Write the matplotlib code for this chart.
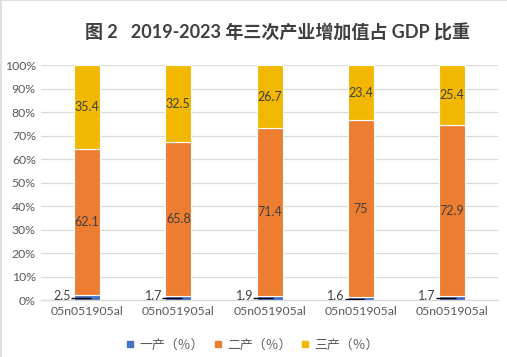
import matplotlib
matplotlib.use("Agg")
import matplotlib.pyplot as plt
from matplotlib.lines import Line2D
import numpy as np

plt.rcParams['font.family'] = ['Lato', 'Noto Sans CJK SC', 'DejaVu Sans']

categories = ["05n051905al"] * 5
primary = [2.5, 1.7, 1.9, 1.6, 1.7]
secondary = [62.1, 65.8, 71.4, 75, 72.9]
tertiary = [35.4, 32.5, 26.7, 23.4, 25.4]
series_names = ["一产（％）", "二产（％）", "三产（％）"]
yticks = [0, 10, 20, 30, 40, 50, 60, 70, 80, 90, 100]
title = "图 2   2019-2023 年三次产业增加值占 GDP 比重"

colors = ["#4472C4", "#ED7D31", "#F2B800"]
txt_grey = "#595959"
lbl_col = "#404040"

fig = plt.figure(figsize=(5.07, 3.57), dpi=100)
ax = fig.add_axes([0.0817, 0.1583, 0.8998, 0.6588])

x = np.arange(len(categories))
w = 0.285
p = np.array(primary) / 100
s = np.array(secondary) / 100
t = np.array(tertiary) / 100

ax.bar(x, p, w, color=colors[0], edgecolor="white", linewidth=0.8, zorder=3)
ax.bar(x, s, w, bottom=p, color=colors[1], edgecolor="white", linewidth=0.8, zorder=3)
ax.bar(x, t, w, bottom=p + s, color=colors[2], edgecolor="white", linewidth=0.8, zorder=3)

def fmt(v):
    return ("%g" % v)

for i in range(len(x)):
    ax.text(x[i], p[i] + s[i] / 2, fmt(secondary[i]), ha="center", va="center",
            fontsize=9, color=lbl_col, zorder=5)
    ax.text(x[i], p[i] + s[i] + t[i] / 2, fmt(tertiary[i]), ha="center", va="center",
            fontsize=9, color=lbl_col, zorder=5)
    lx = x[i] - w / 2 - 0.035
    ax.text(lx, 0.02, fmt(primary[i]), ha="right", va="center",
            fontsize=9, color=lbl_col, zorder=5)
    ax.plot([lx, x[i] + 0.04], [p[i] / 2, p[i] / 2], color="black", linewidth=1.0,
            zorder=6, solid_capstyle="butt")

ax.set_xlim(-0.5, len(x) - 0.5)
ax.set_ylim(0, 1)
ax.set_yticks([v / 100 for v in yticks])
ax.set_yticklabels(["%d%%" % v for v in yticks])
ax.set_xticks(x)
ax.set_xticklabels(categories)
ax.tick_params(axis="both", length=0, labelsize=8.8, colors=txt_grey)
ax.tick_params(axis="y", pad=4)
ax.tick_params(axis="x", pad=4)
ax.grid(axis="y", color="#D9D9D9", linewidth=0.9, zorder=0)
for sp in ["top", "right", "left"]:
    ax.spines[sp].set_visible(False)
ax.spines["bottom"].set_color("#D9D9D9")
ax.spines["bottom"].set_linewidth(0.9)

fig.text(0.547, 0.908, title, ha="center", va="center", fontsize=13,
         fontweight="bold", color="#404040")

handles = [Line2D([], [], marker="s", linestyle="none", markersize=5,
                  markerfacecolor=c, markeredgecolor=c) for c in colors]
fig.legend(handles, series_names, loc="center", bbox_to_anchor=(0.497, 0.034),
           ncol=3, frameon=False, labelcolor=txt_grey,
           handlelength=0.8, handletextpad=0.3, columnspacing=0.7,
           prop={"family": ["Noto Sans CJK SC"], "size": 9.3})

# light frame lines at top and left
fig.add_artist(Line2D([0.001, 0.001], [0, 1], transform=fig.transFigure, color="#D9D9D9", linewidth=1.2))
fig.add_artist(Line2D([0, 1], [0.999, 0.999], transform=fig.transFigure, color="#D9D9D9", linewidth=1.2))

fig.savefig("out.png", dpi=100)
